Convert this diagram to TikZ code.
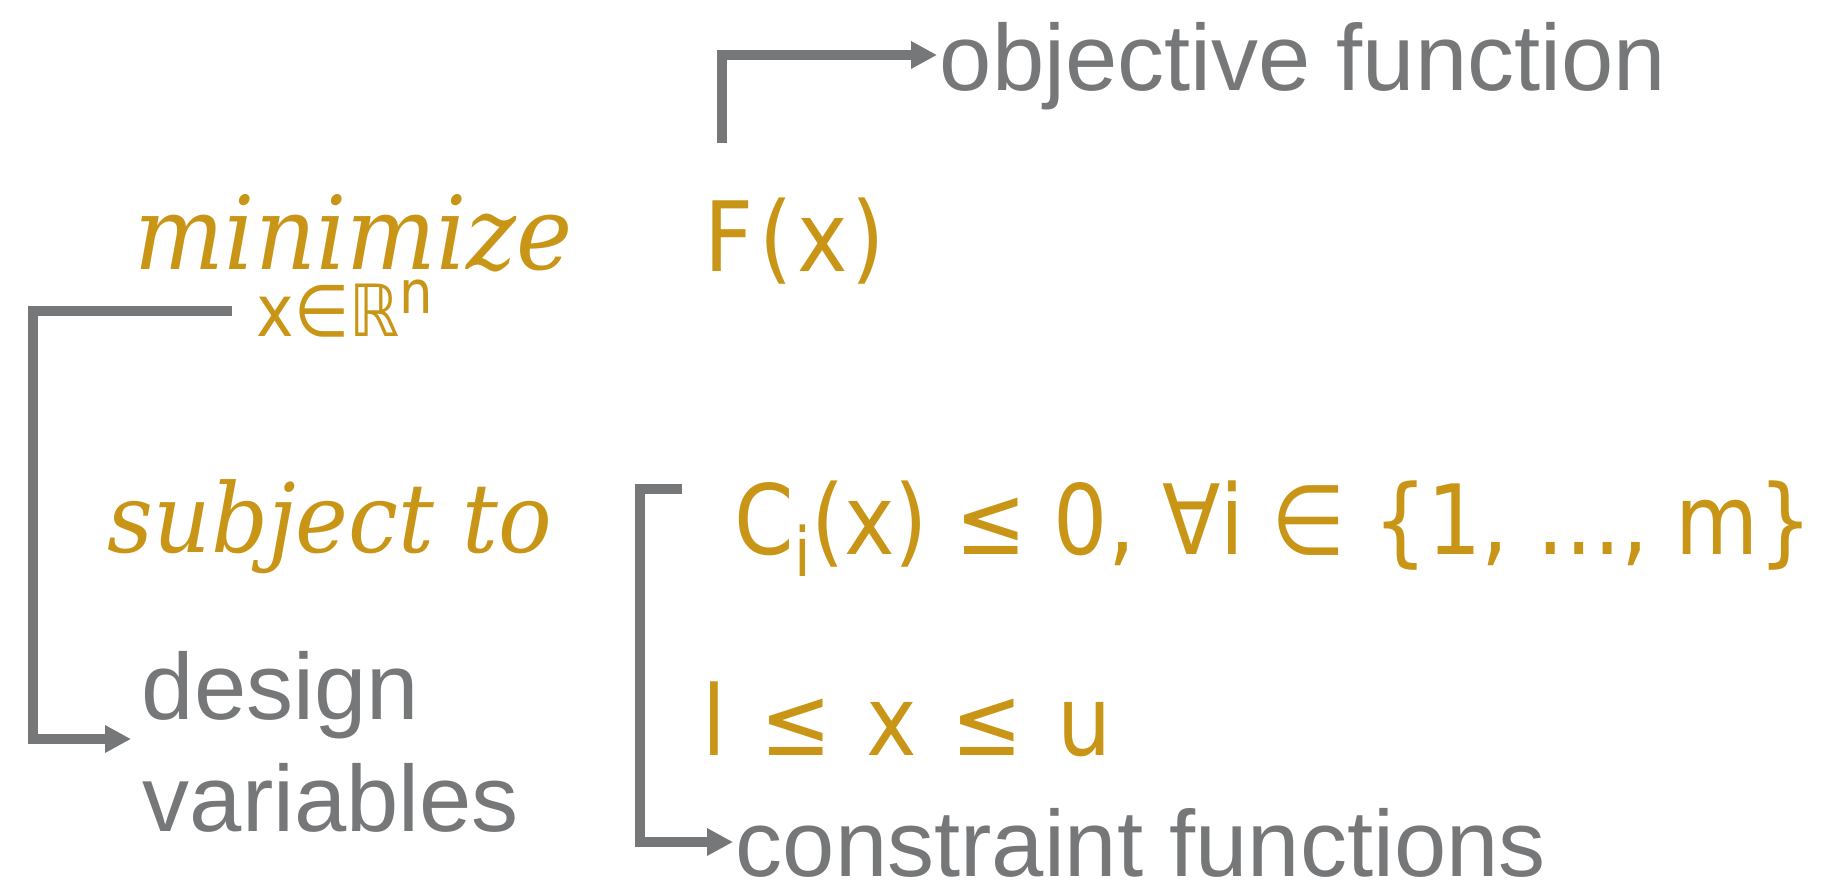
\documentclass[tikz,border=0pt]{standalone}
\usepackage{fontspec}
\setmainfont{Liberation Sans}
\newfontfamily\goldsans{DejaVu Sans}[FakeStretch=0.88]
\newfontfamily\goldserif{DejaVu Serif}[FakeStretch=0.93]
\usetikzlibrary{arrows.meta}
\definecolor{optGold}{RGB}{200,149,22}
\definecolor{optGray}{RGB}{118,119,121}

\begin{document}
\begin{tikzpicture}[x=0.25pt, y=-0.25pt, >={Triangle[length=6.5pt,width=6.5pt]},
  lbl/.style={anchor=base west, inner sep=0pt, text=optGray,
              font=\fontsize{23.5}{28}\selectfont},
  eq/.style={anchor=base west, inner sep=0pt, text=optGold,
             font=\goldsans\fontsize{24.25}{29}\selectfont},
  kw/.style={anchor=base west, inner sep=0pt, text=optGold,
             font=\goldserif\itshape\fontsize{24}{29}\selectfont},
  link/.style={draw=optGray, line width=2.3pt, ->}]

  \useasboundingbox (0,0) rectangle (1828,885);

  \node[lbl] (obj)  at (939,91)  {objective function};
  \node[eq]  (fx)   at (704,272) {F\kern1.5pt(\kern1pt x\kern1pt)};
  \node[kw, font=\goldserif\itshape\fontsize{25.5}{30}\selectfont] (minz) at (134,270) {minimize};
  \node[eq, font=\goldsans\fontsize{18}{21}\selectfont] (dom) at (256,337)
    {x∈ℝ\raisebox{5.75pt}{\fontsize{15}{17}\selectfont n}};
  \node[kw]  (subj) at (107,553) {subject to};
  \node[lbl] (dsgn) at (141,719) {design};
  \node[lbl] (vars) at (142,831) {variables};
  \node[eq]  (cons) at (734,555)
    {C\raisebox{-5.5pt}{\fontsize{17}{20}\selectfont i}(x) ≤ 0, ∀i ∈ \{1, …, m\}};
  \node[eq]  (bnds) at (702,755) {\spaceskip=8.6pt\relax l ≤ x ≤ u};
  \node[lbl] (cfun) at (735,876) {constraint functions};

  \coordinate (fxtop)    at (722,143);
  \coordinate (objtip)   at (937,55);
  \coordinate (domend)   at (232,311);
  \coordinate (dvcorner) at (33,739);
  \coordinate (dvtip)    at (131,739);
  \coordinate (consend)  at (682,489);
  \coordinate (cfcorner) at (640,842);
  \coordinate (cftip)    at (733,842);

  \draw[link] (fxtop) |- (objtip);
  \draw[link] (domend) -| (dvcorner) -- (dvtip);
  \draw[link] (consend) -| (cfcorner) -- (cftip);

\end{tikzpicture}
\end{document}
